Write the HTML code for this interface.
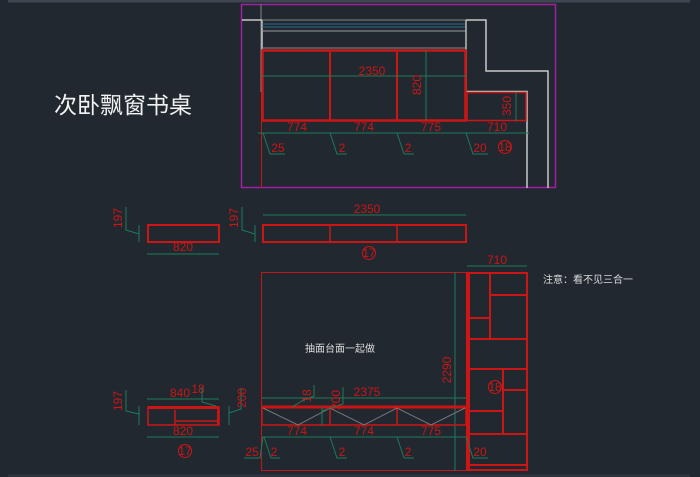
<!DOCTYPE html>
<html><head><meta charset="utf-8"><style>
html,body{margin:0;padding:0;background:#212830;}
svg{display:block}
text{font-family:"Liberation Sans","Noto Sans CJK SC",sans-serif;}
.r{fill:#cc1515;font-size:12px;text-anchor:middle}
.d{stroke:#1e7a5a;stroke-width:1;fill:none}
.red{stroke:#cc1515;fill:none}
.w{stroke:#c8c8c8;stroke-width:1.5;fill:none}
.g{stroke:#777;stroke-width:1;fill:none}
</style></head><body>
<svg width="700" height="477" viewBox="0 0 700 477" xmlns="http://www.w3.org/2000/svg">
<rect x="0" y="0" width="700" height="477" fill="#212830"/>
<rect x="8" y="0" width="682" height="2.5" fill="#3f4652"/>
<rect x="8" y="474" width="682" height="3" fill="#2c333c"/>

<text x="54" y="113" fill="#f2f2f2" font-size="23">次卧飘窗书桌</text>

<rect x="241.5" y="4.5" width="314" height="183" fill="none" stroke="#a020a0" stroke-width="1.5"/>
<line x1="261" y1="4" x2="261" y2="92" stroke="#666" stroke-width="1.5"/>
<polyline class="w" points="242,20 262,20 262,92"/>
<line x1="262" y1="20" x2="466" y2="20" stroke="#666" stroke-width="1.5"/>
<line x1="262" y1="24" x2="466" y2="24" stroke="#2a6a8a"/>
<line x1="262" y1="27" x2="466" y2="27" stroke="#2a6a8a"/>
<line x1="262" y1="31" x2="466" y2="31" stroke="#999"/>
<line x1="262" y1="48" x2="466" y2="48" stroke="#888"/>
<polyline class="w" points="466,20 486,20 486,71 548,71 548,188"/>
<line x1="466" y1="20" x2="466" y2="92" stroke="#bbb" stroke-width="1.5"/>
<polyline class="w" points="466,91.5 527,91.5 527,188"/>
<line x1="261.5" y1="92" x2="261.5" y2="188" stroke="#c01818"/>
<rect x="262.5" y="50.5" width="203" height="70" class="red" stroke-width="2.5"/>
<line x1="330" y1="50" x2="330" y2="121" class="red" stroke-width="2"/>
<line x1="397" y1="50" x2="397" y2="121" class="red" stroke-width="2"/>
<rect x="467" y="92.5" width="59" height="28" class="red" stroke-width="1.5"/>
<line class="d" x1="262" y1="76" x2="466" y2="76"/>
<text class="r" x="372" y="75">2350</text>
<line class="d" x1="426" y1="50" x2="426" y2="120"/>
<text class="r" transform="translate(421,85) rotate(-90)">820</text>
<line class="d" x1="516" y1="92" x2="516" y2="121"/>
<text class="r" transform="translate(511,106) rotate(-90)">350</text>
<line class="d" x1="258" y1="133" x2="529" y2="133"/>
<text class="r" x="297" y="131">774</text>
<text class="r" x="364" y="131">774</text>
<text class="r" x="431" y="131">775</text>
<text class="r" x="497" y="131">710</text>
<polyline class="d" points="263,133 270,154 285,154"/>
<text class="r" x="278" y="152">25</text>
<polyline class="d" points="330,133 337,154 347,154"/>
<text class="r" x="342" y="152">2</text>
<polyline class="d" points="397,133 404,154 414,154"/>
<text class="r" x="408" y="152">2</text>
<polyline class="d" points="466,133 473,154 488,154"/>
<text class="r" x="480" y="152">20</text>
<circle cx="505" cy="147" r="6.5" fill="none" stroke="#cc1515"/>
<text class="r" x="505" y="151" font-size="9">18</text>

<rect x="148" y="225" width="71" height="17" class="red" stroke-width="2"/>
<polyline class="d" points="126,207 126,230 139,234"/>
<line class="d" x1="139" y1="225" x2="139" y2="242"/>
<text class="r" transform="translate(122,218) rotate(-90)">197</text>
<line class="d" x1="147" y1="254" x2="219" y2="254"/>
<text class="r" x="183" y="251">820</text>
<rect x="263" y="225" width="203" height="17" class="red" stroke-width="2"/>
<line x1="330" y1="225" x2="330" y2="242" class="red" stroke-width="1.5"/>
<line x1="397" y1="225" x2="397" y2="242" class="red" stroke-width="1.5"/>
<polyline class="d" points="242,207 242,230 255,234"/>
<line class="d" x1="255" y1="225" x2="255" y2="242"/>
<text class="r" transform="translate(238,218) rotate(-90)">197</text>
<line class="d" x1="263" y1="215" x2="466" y2="215"/>
<text class="r" x="367" y="213">2350</text>
<circle cx="369" cy="253" r="6.5" fill="none" stroke="#cc1515"/>
<text class="r" x="369" y="257" font-size="9">17</text>

<rect x="261.5" y="272.5" width="205" height="198" fill="none" stroke="#c01818"/>
<text x="340" y="352" fill="#dcdcdc" font-size="10" text-anchor="middle">抽面台面一起做</text>
<line class="d" x1="455" y1="272" x2="455" y2="471"/>
<text class="r" transform="translate(451,370) rotate(-90)">2290</text>
<line class="d" x1="467" y1="266" x2="527" y2="266"/>
<text class="r" x="497" y="264">710</text>
<text x="543" y="283" fill="#dcdcdc" font-size="10">注意：看不见三合一</text>

<g class="red" stroke-width="2">
<rect x="467" y="273" width="60" height="197"/>
<line x1="469" y1="273" x2="469" y2="470"/>
<line x1="490" y1="273" x2="490" y2="339"/>
<line x1="490" y1="295" x2="527" y2="295"/>
<line x1="469" y1="318" x2="490" y2="318"/>
<line x1="469" y1="339" x2="527" y2="339"/>
<line x1="469" y1="369" x2="527" y2="369"/>
<line x1="503" y1="369" x2="503" y2="434"/>
<line x1="503" y1="390" x2="527" y2="390"/>
<line x1="469" y1="411" x2="503" y2="411"/>
<line x1="469" y1="434" x2="527" y2="434"/>
<line x1="469" y1="465" x2="527" y2="465"/>
</g>
<circle cx="495" cy="387" r="6.5" fill="#212830" stroke="#cc1515"/>
<text class="r" x="495" y="391" font-size="9">18</text>

<line x1="262" y1="407" x2="466" y2="407" class="red" stroke-width="3"/>
<rect x="262" y="407" width="204" height="18" class="red" stroke-width="1.5"/>
<line x1="330" y1="407" x2="330" y2="425" class="red" stroke-width="1.5"/>
<line x1="397" y1="407" x2="397" y2="425" class="red" stroke-width="1.5"/>
<polyline class="g" points="263,408 298,425 330,408 364,425 397,408 431,425 465,408"/>
<line class="d" x1="262" y1="398" x2="466" y2="398"/>
<text class="r" x="367" y="396">2375</text>
<polyline class="d" points="292,407 302,401 314,396 314,385"/>
<text class="r" transform="translate(311,396) rotate(-90)">18</text>
<line class="d" x1="322" y1="407" x2="322" y2="425"/>
<polyline class="d" points="322,411 343,404 343,387"/>
<text class="r" transform="translate(340,400) rotate(-90)">200</text>
<line class="d" x1="262" y1="437" x2="466" y2="437"/>
<text class="r" x="297" y="435">774</text>
<text class="r" x="364" y="435">774</text>
<text class="r" x="431" y="435">775</text>
<polyline class="d" points="263,437 260,458 244,458"/>
<text class="r" x="252" y="456">25</text>
<polyline class="d" points="264,437 271,458 280,458"/>
<text class="r" x="274" y="456">2</text>
<polyline class="d" points="330,437 337,458 347,458"/>
<text class="r" x="342" y="456">2</text>
<polyline class="d" points="397,437 404,458 414,458"/>
<text class="r" x="408" y="456">2</text>
<polyline class="d" points="466,437 473,458 488,458"/>
<text class="r" x="480" y="456">20</text>

<rect x="148" y="407" width="71" height="18" class="red" stroke-width="1.5"/>
<line x1="148" y1="407.5" x2="219" y2="407.5" class="red" stroke-width="3"/>
<line x1="175" y1="410" x2="175" y2="425" class="red" stroke-width="1.5"/>
<line x1="176" y1="421" x2="219" y2="421" class="red" stroke-width="1.5"/>
<line x1="218" y1="407" x2="218" y2="425" class="red" stroke-width="2"/>
<polyline class="d" points="126,390 126,411 139,414"/>
<line class="d" x1="139" y1="406" x2="139" y2="425"/>
<text class="r" transform="translate(122,401) rotate(-90)">197</text>
<line class="d" x1="147" y1="399" x2="219" y2="399"/>
<text class="r" x="180" y="397">840</text>
<text class="r" x="198" y="393" font-size="7">18</text>
<polyline class="d" points="202,387 202,402 216,406"/>
<line class="d" x1="229" y1="406" x2="229" y2="425"/>
<polyline class="d" points="229,413 241,409 241,388"/>
<text class="r" transform="translate(246,398) rotate(-90)">200</text>
<line class="d" x1="147" y1="437" x2="219" y2="437"/>
<text class="r" x="183" y="435">820</text>
<circle cx="185" cy="451" r="6.5" fill="none" stroke="#cc1515"/>
<text class="r" x="185" y="455" font-size="9">17</text>
</svg>
</body></html>
